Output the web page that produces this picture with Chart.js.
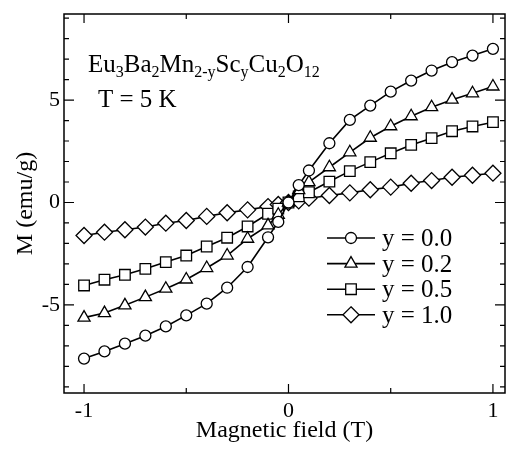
<!DOCTYPE html>
<html>
<head>
<meta charset="utf-8">
<script src="https://cdn.jsdelivr.net/npm/chart.js"></script>
<style>
  body { margin: 0; background: #fff; }
  #wrap { width: 506px; height: 456px; }
</style>
</head>
<body>
<div id="wrap"><canvas id="chart" width="506" height="456"></canvas></div>
<script>
// magnetic field (T)
var field = [-1, -0.9, -0.8, -0.7, -0.6, -0.5, -0.4, -0.3, -0.2, -0.1, -0.05, 0,
             0.05, 0.1, 0.2, 0.3, 0.4, 0.5, 0.6, 0.7, 0.8, 0.9, 1];
// M (emu/g) for each Sc content y
var mY00 = [-7.62, -7.27, -6.89, -6.50, -6.05, -5.51, -4.94, -4.16, -3.15, -1.70, -0.95, 0,
            0.85, 1.56, 2.89, 4.03, 4.73, 5.41, 5.95, 6.44, 6.85, 7.17, 7.50];
var mY02 = [-5.62, -5.40, -5.02, -4.62, -4.21, -3.76, -3.20, -2.59, -1.77, -1.12, -0.60, 0,
            0.60, 0.99, 1.72, 2.45, 3.16, 3.72, 4.21, 4.65, 5.02, 5.33, 5.66];
var mY05 = [-4.05, -3.77, -3.53, -3.24, -2.91, -2.59, -2.15, -1.72, -1.17, -0.55, -0.30, 0,
            0.30, 0.50, 1.02, 1.53, 1.97, 2.40, 2.81, 3.14, 3.48, 3.71, 3.92];
var mY10 = [-1.61, -1.45, -1.33, -1.20, -1.01, -0.88, -0.68, -0.50, -0.36, -0.20, -0.10, 0,
            0.08, 0.21, 0.34, 0.47, 0.62, 0.75, 0.94, 1.07, 1.23, 1.33, 1.43];

var seriesLabels = ['y = 0.0', 'y = 0.2', 'y = 0.5', 'y = 1.0'];
var xTicks = [-1, 0, 1];
var xMinorTicks = [-0.5, 0.5];
var yTicks = [-5, 0, 5];
var yMinorTicks = [-9, -8, -7, -6, -4, -3, -2, -1, 1, 2, 3, 4, 6, 7, 8, 9];

var serif = "'Liberation Serif', 'Times New Roman', serif";

function toPoints(ys) {
    return field.map(function(x, i) { return {x: x, y: ys[i]}; });
}

var styles = [
    {pointStyle: 'circle', radius: 5.5},
    {pointStyle: 'triangle', radius: 7},
    {pointStyle: 'rect', radius: 7.5},
    {pointStyle: 'rectRot', radius: 8}
];

var datasets = [mY00, mY02, mY05, mY10].map(function(ys, i) {
    return {
        label: seriesLabels[i],
        data: toPoints(ys),
        borderColor: '#000',
        borderWidth: 1.6,
        backgroundColor: '#fff',
        pointStyle: styles[i].pointStyle,
        pointRadius: styles[i].radius,
        pointBorderWidth: 1.3,
        pointBackgroundColor: '#fff',
        pointBorderColor: '#000',
        tension: 0
    };
});

// draw a marker shape like chart.js does
function drawMarker(ctx, style, x, y, r) {
    ctx.beginPath();
    if (style === 'circle') {
        ctx.arc(x, y, r, 0, Math.PI * 2);
    } else if (style === 'triangle') {
        for (var k = 0; k < 3; k++) {
            var a = k * 2 * Math.PI / 3;
            var px = x + Math.sin(a) * r, py = y - Math.cos(a) * r;
            if (k === 0) ctx.moveTo(px, py); else ctx.lineTo(px, py);
        }
        ctx.closePath();
    } else if (style === 'rect') {
        var s = Math.SQRT1_2 * r;
        ctx.rect(x - s, y - s, 2 * s, 2 * s);
    } else {
        ctx.moveTo(x, y - r); ctx.lineTo(x + r, y); ctx.lineTo(x, y + r); ctx.lineTo(x - r, y);
        ctx.closePath();
    }
    ctx.fill();
    ctx.stroke();
}

var framePlugin = {
    id: 'frame',
    afterDraw: function(chart) {
        var ctx = chart.ctx, a = chart.chartArea;
        var xs = chart.scales.x, ys = chart.scales.y;
        ctx.save();
        ctx.strokeStyle = '#000';
        ctx.lineWidth = 1.5;
        ctx.strokeRect(a.left, a.top, a.right - a.left, a.bottom - a.top);
        ctx.lineWidth = 1.2;
        ctx.beginPath();
        function xt(v, len) {
            var p = xs.getPixelForValue(v);
            ctx.moveTo(p, a.bottom); ctx.lineTo(p, a.bottom - len);
            ctx.moveTo(p, a.top); ctx.lineTo(p, a.top + len);
        }
        function yt(v, len) {
            var p = ys.getPixelForValue(v);
            ctx.moveTo(a.left, p); ctx.lineTo(a.left + len, p);
            ctx.moveTo(a.right, p); ctx.lineTo(a.right - len, p);
        }
        xTicks.forEach(function(v) { xt(v, 9); });
        xMinorTicks.forEach(function(v) { xt(v, 5); });
        yTicks.forEach(function(v) { yt(v, 10); });
        yMinorTicks.forEach(function(v) { yt(v, 5); });
        ctx.stroke();

        // compound name with subscripts
        var parts = [['Eu', 0], ['3', 1], ['Ba', 0], ['2', 1], ['Mn', 0], ['2-y', 1],
                     ['Sc', 0], ['y', 1], ['Cu', 0], ['2', 1], ['O', 0], ['12', 1]];
        var x = a.left + 24, base = a.top + 58;
        ctx.fillStyle = '#000';
        ctx.textBaseline = 'alphabetic';
        ctx.textAlign = 'left';
        parts.forEach(function(p) {
            ctx.font = (p[1] ? '16px ' : '25px ') + serif;
            ctx.fillText(p[0], x, base + (p[1] ? 5 : 0));
            x += ctx.measureText(p[0]).width;
        });
        ctx.font = '25px ' + serif;
        ctx.fillText('T = 5 K', a.left + 34, a.top + 93);

        // legend inside the plot
        var lx = 327, rowY = 238, step = 25.6;
        chart.data.datasets.forEach(function(ds, i) {
            var cy = rowY + i * step;
            ctx.lineWidth = 1.6;
            ctx.beginPath();
            ctx.moveTo(lx, cy); ctx.lineTo(lx + 48, cy);
            ctx.stroke();
            ctx.fillStyle = '#fff';
            ctx.lineWidth = 1.3;
            drawMarker(ctx, ds.pointStyle, lx + 24, cy, ds.pointRadius);
            ctx.fillStyle = '#000';
            ctx.font = '25px ' + serif;
            ctx.fillText(ds.label, lx + 55, cy + 8);
        });
        ctx.restore();
    }
};

function noEdgePadding(s) {
    s.paddingLeft = 0; s.paddingRight = 0; s.paddingTop = 0; s.paddingBottom = 0;
}

var ctx = document.getElementById('chart').getContext('2d');
var chart = new Chart(ctx, {
    type: 'line',
    data: {datasets: datasets},
    plugins: [framePlugin],
    options: {
        responsive: false,
        animation: false,
        layout: {autoPadding: false, padding: {top: 14, right: 1, left: 0, bottom: 0}},
        plugins: {legend: {display: false}, tooltip: {enabled: false}},
        scales: {
            x: {
                type: 'linear',
                min: -1.098,
                max: 1.059,
                grid: {display: false, drawTicks: false},
                border: {display: false},
                ticks: {color: '#000', font: {family: serif, size: 22}, padding: 5},
                title: {display: true, text: 'Magnetic field (T)', color: '#000',
                        font: {family: serif, size: 24}, padding: {top: 0, bottom: 11}},
                afterBuildTicks: function(s) { s.ticks = xTicks.map(function(v) { return {value: v}; }); },
                afterFit: function(s) { s.height = 63; noEdgePadding(s); }
            },
            y: {
                type: 'linear',
                min: -9.3,
                max: 9.2,
                grid: {display: false, drawTicks: false},
                border: {display: false},
                ticks: {color: '#000', font: {family: serif, size: 22}, padding: 4},
                title: {display: true, text: 'M (emu/g)', color: '#000',
                        font: {family: serif, size: 24}, padding: {top: 11, bottom: 0}},
                afterBuildTicks: function(s) { s.ticks = yTicks.map(function(v) { return {value: v}; }); },
                afterFit: function(s) { s.width = 64; noEdgePadding(s); }
            }
        }
    }
});
</script>
</body>
</html>
